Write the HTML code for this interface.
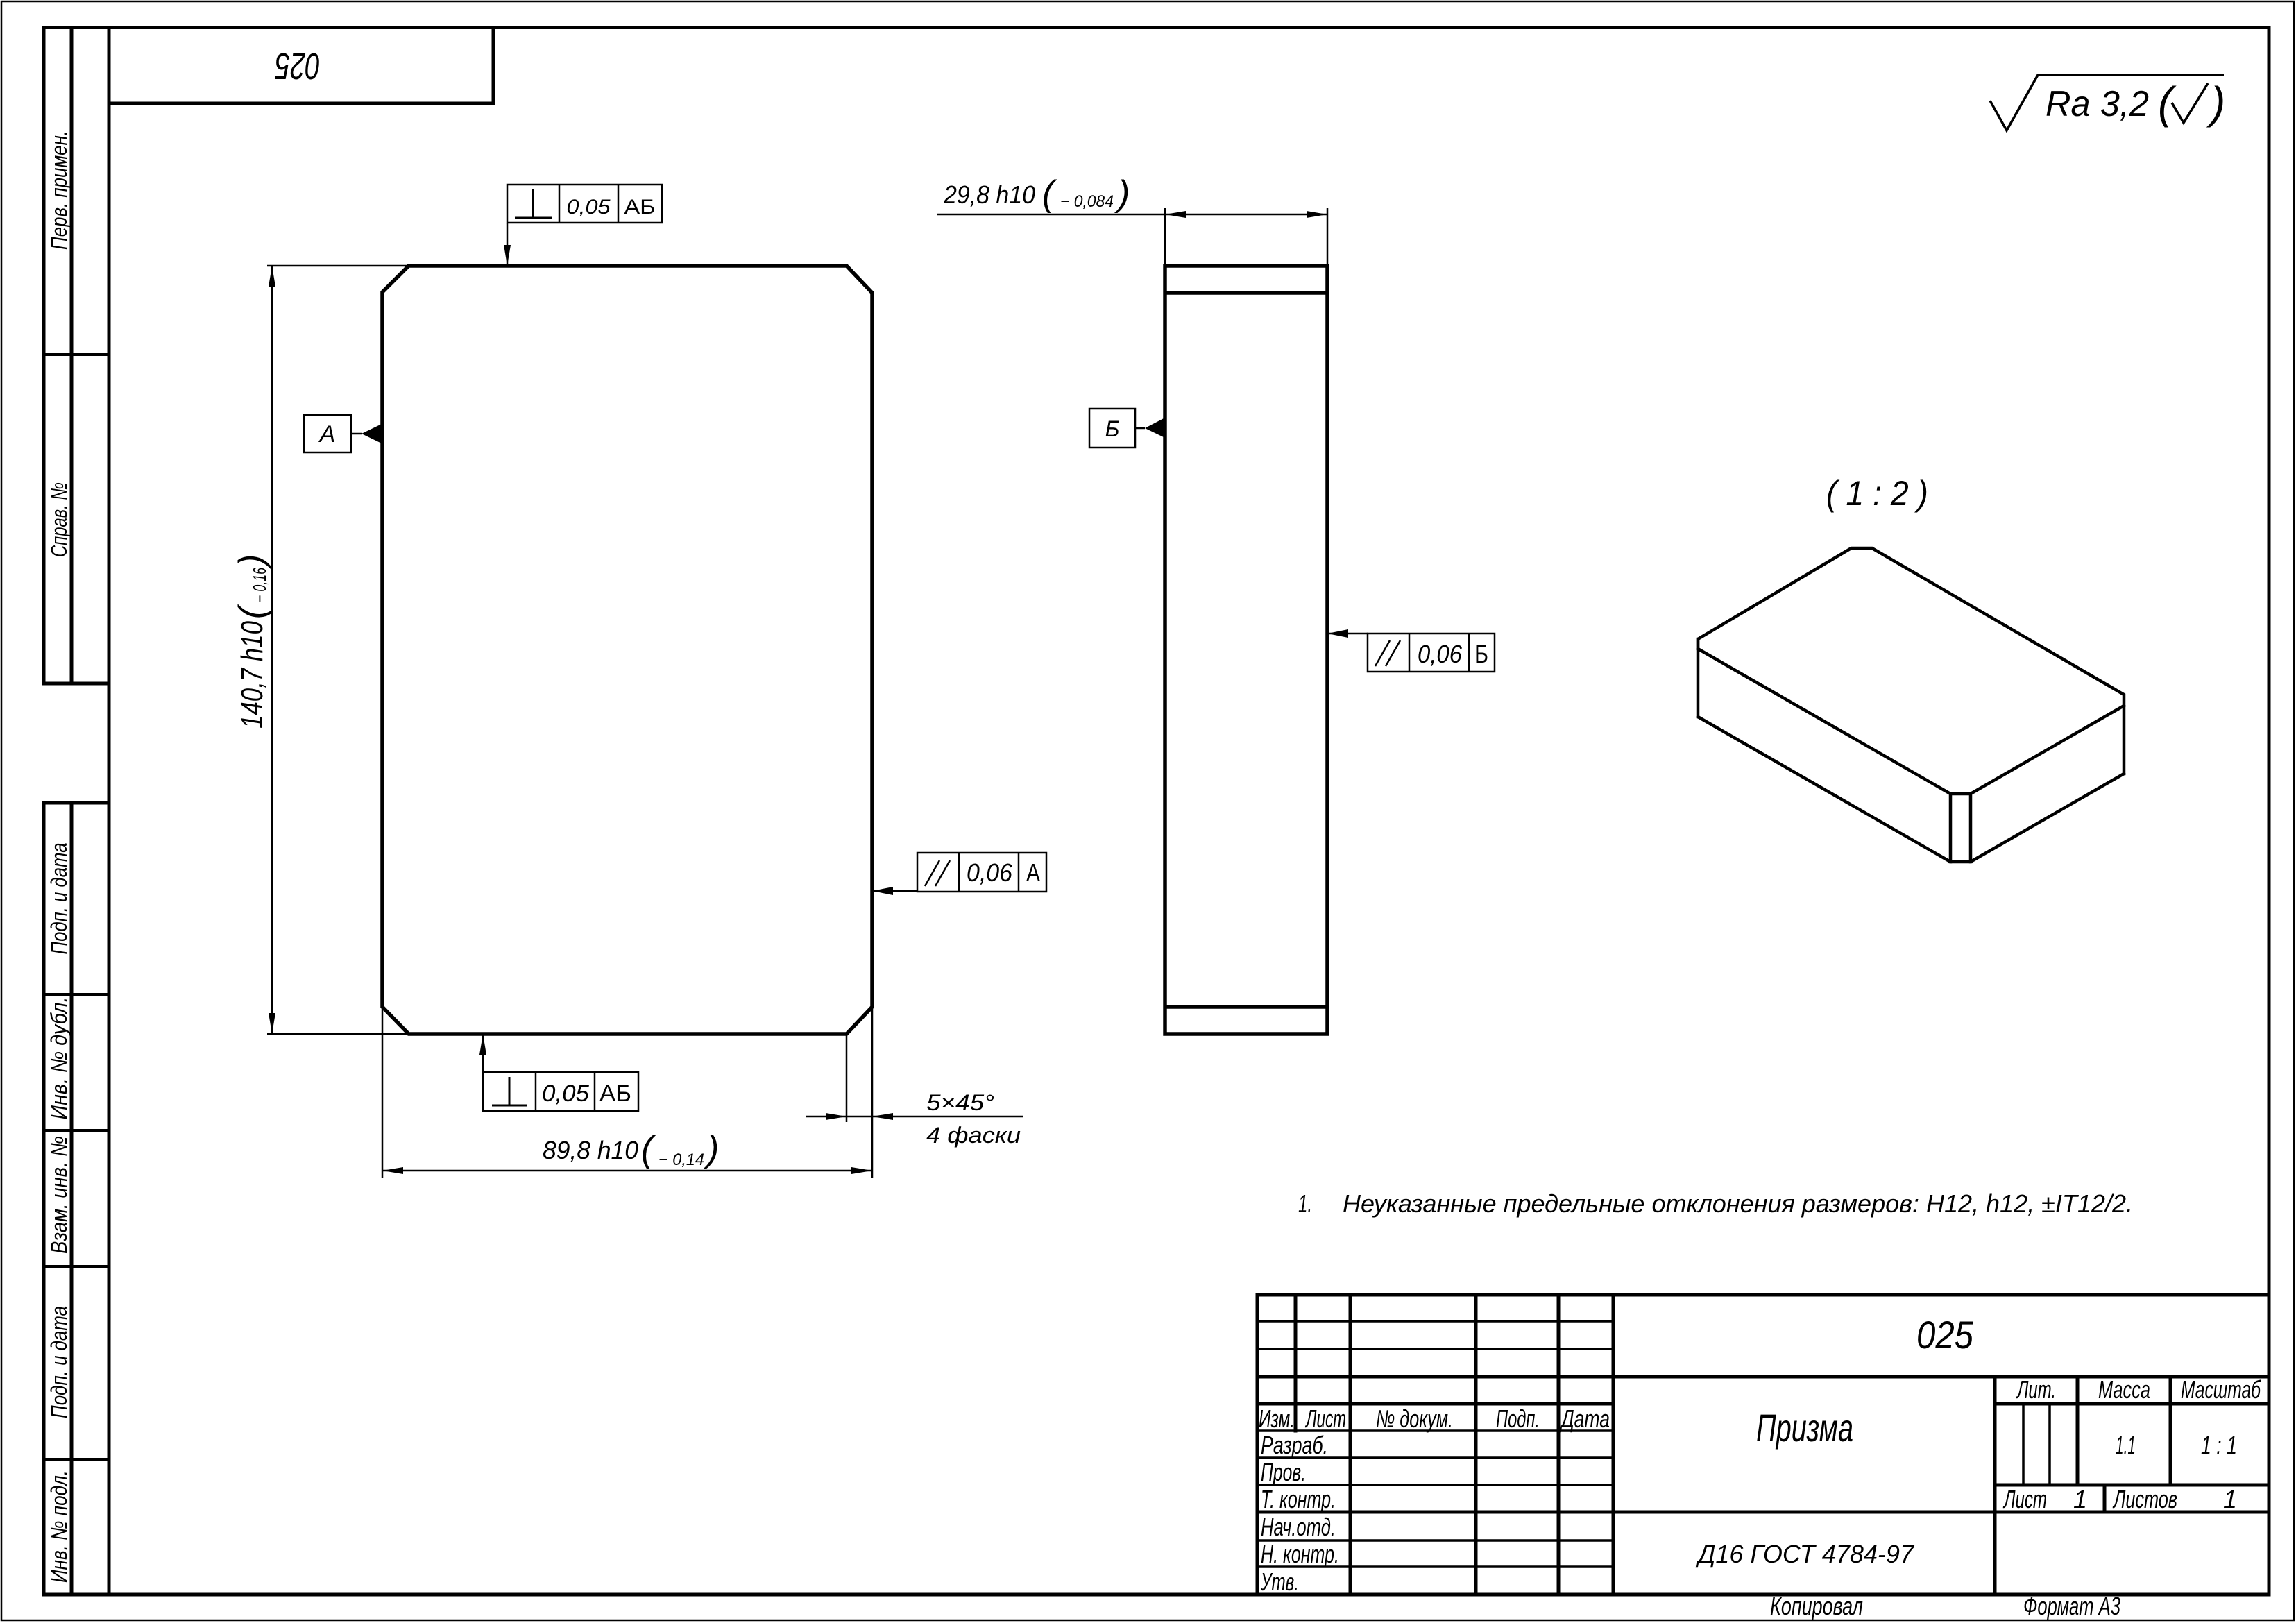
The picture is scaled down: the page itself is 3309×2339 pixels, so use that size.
<!DOCTYPE html>
<html><head><meta charset="utf-8"><style>
html,body{margin:0;padding:0;background:#fff;}
svg{display:block;}
text{font-family:"Liberation Sans","DejaVu Sans",sans-serif;font-style:italic;fill:#000;stroke:none;}
.up{font-style:normal;}
</style></head><body>
<svg xmlns="http://www.w3.org/2000/svg" width="3309" height="2339" viewBox="0 0 3309 2339">
<rect x="0" y="0" width="3309" height="2339" fill="#fff"/>
<!-- outer thin border -->
<rect x="2" y="2" width="3304" height="2333" fill="none" stroke="#000" stroke-width="2.5"/>

<g stroke="#000" fill="none" stroke-width="5" stroke-linecap="square">
  <!-- main frame -->
  <line x1="63" y1="39.5" x2="3270" y2="39.5"/>
  <line x1="157" y1="39.5" x2="157" y2="2298"/>
  <line x1="3270" y1="39.5" x2="3270" y2="2298"/>
  <line x1="63" y1="2298" x2="3270" y2="2298"/>
  <!-- left strip upper -->
  <line x1="63" y1="39.5" x2="63" y2="985"/>
  <line x1="103" y1="39.5" x2="103" y2="985"/>
  <line x1="63" y1="985" x2="157" y2="985"/>
  <!-- left strip lower -->
  <line x1="63" y1="1157" x2="63" y2="2298"/>
  <line x1="103" y1="1157" x2="103" y2="2298"/>
  <line x1="63" y1="1157" x2="157" y2="1157"/>
  <!-- stamp box -->
  <line x1="711" y1="39.5" x2="711" y2="149"/>
  <line x1="157" y1="149" x2="711" y2="149"/>
</g>
<g stroke="#000" stroke-width="4">
  <line x1="63" y1="511" x2="157" y2="511"/>
  <line x1="63" y1="1433" x2="157" y2="1433"/>
  <line x1="63" y1="1629" x2="157" y2="1629"/>
  <line x1="63" y1="1825" x2="157" y2="1825"/>
  <line x1="63" y1="2103" x2="157" y2="2103"/>
</g>

<!-- left strip texts -->
<g font-size="32">
  <text transform="translate(96,274) rotate(-90)" text-anchor="middle" textLength="172" lengthAdjust="spacingAndGlyphs">Перв. примен.</text>
  <text transform="translate(96,749) rotate(-90)" text-anchor="middle" textLength="108" lengthAdjust="spacingAndGlyphs">Справ. №</text>
  <text transform="translate(96,1295) rotate(-90)" text-anchor="middle" textLength="161" lengthAdjust="spacingAndGlyphs">Подп. и дата</text>
  <text transform="translate(96,1525) rotate(-90)" text-anchor="middle" textLength="177" lengthAdjust="spacingAndGlyphs">Инв. № дубл.</text>
  <text transform="translate(96,1722) rotate(-90)" text-anchor="middle" textLength="170" lengthAdjust="spacingAndGlyphs">Взам. инв. №</text>
  <text transform="translate(96,1963) rotate(-90)" text-anchor="middle" textLength="162" lengthAdjust="spacingAndGlyphs">Подп. и дата</text>
  <text transform="translate(96,2200) rotate(-90)" text-anchor="middle" textLength="162" lengthAdjust="spacingAndGlyphs">Инв. № подл.</text>
</g>
<!-- stamp upside-down -->
<text transform="rotate(180 429 96)" x="429" y="115" font-size="54" text-anchor="middle" textLength="65" lengthAdjust="spacingAndGlyphs">025</text>

<!-- Ra symbol -->
<polyline points="2868,145 2892,188 2937,108 3205,108" fill="none" stroke="#000" stroke-width="3.5"/>
<text x="2948" y="167" font-size="52" textLength="149" lengthAdjust="spacingAndGlyphs">Ra 3,2</text>
<text x="3110" y="170" font-size="64">(</text>
<polyline points="3130,148 3147,177 3182,120" fill="none" stroke="#000" stroke-width="3.5"/>
<text x="3186" y="170" font-size="64">)</text>

<!-- FRONT VIEW -->
<polygon points="589,383 1220,383 1257,422 1257,1451 1220,1490 589,1490 551,1451 551,421" fill="none" stroke="#000" stroke-width="5.5" stroke-linejoin="miter"/>

<g stroke="#000" stroke-width="2.5" fill="none">
  <!-- vertical dim -->
  <line x1="385" y1="383" x2="589" y2="383"/>
  <line x1="385" y1="1490" x2="589" y2="1490"/>
  <line x1="392" y1="383" x2="392" y2="1490"/>
  <!-- 89,8 dim -->
  <line x1="551" y1="1451" x2="551" y2="1697"/>
  <line x1="1257" y1="1451" x2="1257" y2="1697"/>
  <line x1="551" y1="1687" x2="1257" y2="1687"/>
  <!-- chamfer dim -->
  <line x1="1220" y1="1490" x2="1220" y2="1617"/>
  <line x1="1162" y1="1609" x2="1475" y2="1609"/>
  <!-- side view dim -->
  <line x1="1679" y1="300" x2="1679" y2="383"/>
  <line x1="1913" y1="300" x2="1913" y2="383"/>
  <line x1="1351" y1="309" x2="1913" y2="309"/>
  <!-- leaders -->
  <line x1="731" y1="321" x2="731" y2="383"/>
  <line x1="696" y1="1490" x2="696" y2="1545"/>
  <line x1="1913" y1="913" x2="1971" y2="913"/>
  <line x1="1257" y1="1284" x2="1322" y2="1284"/>
  <line x1="506" y1="625" x2="521" y2="625"/>
  <line x1="1636" y1="617" x2="1650" y2="617"/>
  <!-- datum boxes -->
  <rect x="438" y="598" width="68" height="54"/>
  <rect x="1570" y="589" width="66" height="56"/>
  <!-- GD&T frames -->
  <rect x="731" y="266" width="223" height="55"/>
  <line x1="806" y1="266" x2="806" y2="321"/>
  <line x1="891" y1="266" x2="891" y2="321"/>
  <rect x="696" y="1545" width="224" height="56"/>
  <line x1="772" y1="1545" x2="772" y2="1601"/>
  <line x1="857" y1="1545" x2="857" y2="1601"/>
  <rect x="1971" y="913" width="183" height="55"/>
  <line x1="2031" y1="913" x2="2031" y2="968"/>
  <line x1="2117" y1="913" x2="2117" y2="968"/>
  <rect x="1322" y="1229" width="186" height="56"/>
  <line x1="1382" y1="1229" x2="1382" y2="1285"/>
  <line x1="1468" y1="1229" x2="1468" y2="1285"/>
  <!-- perpendicular symbols -->
  <line x1="742" y1="314" x2="795" y2="314" stroke-width="3"/>
  <line x1="768" y1="273" x2="768" y2="314" stroke-width="3"/>
  <line x1="709" y1="1593" x2="760" y2="1593" stroke-width="3"/>
  <line x1="734" y1="1552" x2="734" y2="1593" stroke-width="3"/>
  <!-- parallel symbols -->
  <line x1="1982" y1="960" x2="2003" y2="923"/>
  <line x1="1997" y1="960" x2="2018" y2="923"/>
  <line x1="1333" y1="1277" x2="1354" y2="1240"/>
  <line x1="1348" y1="1277" x2="1369" y2="1240"/>
</g>

<!-- arrowheads -->
<g fill="#000" stroke="none">
  <polygon points="392,383 387,413 397,413"/>
  <polygon points="392,1490 387,1460 397,1460"/>
  <polygon points="1679,309 1709,304 1709,314"/>
  <polygon points="1913,309 1883,304 1883,314"/>
  <polygon points="551,1687 581,1682 581,1692"/>
  <polygon points="1257,1687 1227,1682 1227,1692"/>
  <polygon points="1220,1609 1190,1604 1190,1614"/>
  <polygon points="1257,1609 1287,1604 1287,1614"/>
  <polygon points="731,383 726,353 736,353"/>
  <polygon points="696,1490 691,1520 701,1520"/>
  <polygon points="1913,913 1943,907 1943,919"/>
  <polygon points="1257,1284 1287,1278 1287,1290"/>
  <polygon points="550,611 550,639 521,625"/>
  <polygon points="1679,602 1679,631 1650,617"/>
</g>

<!-- GD&T / datum texts -->
<text x="848" y="308" font-size="30" text-anchor="middle" textLength="63" lengthAdjust="spacingAndGlyphs">0,05</text>
<text class="up" x="922" y="308" font-size="30" text-anchor="middle" textLength="45" lengthAdjust="spacingAndGlyphs">АБ</text>
<text x="815" y="1587" font-size="34" text-anchor="middle" textLength="68" lengthAdjust="spacingAndGlyphs">0,05</text>
<text class="up" x="887" y="1587" font-size="34" text-anchor="middle" textLength="46" lengthAdjust="spacingAndGlyphs">АБ</text>
<text x="2075" y="955" font-size="36" text-anchor="middle" textLength="64" lengthAdjust="spacingAndGlyphs">0,06</text>
<text class="up" x="2135" y="955" font-size="36" text-anchor="middle" textLength="20" lengthAdjust="spacingAndGlyphs">Б</text>
<text x="1426" y="1270" font-size="36" text-anchor="middle" textLength="66" lengthAdjust="spacingAndGlyphs">0,06</text>
<text class="up" x="1489" y="1270" font-size="36" text-anchor="middle" textLength="20" lengthAdjust="spacingAndGlyphs">А</text>
<text x="472" y="637" font-size="34" text-anchor="middle">А</text>
<text x="1603" y="629" font-size="32" text-anchor="middle">Б</text>

<!-- vertical dimension text -->
<g transform="translate(378,1050) rotate(-90)">
  <text x="0" y="0" font-size="44" textLength="155" lengthAdjust="spacingAndGlyphs">140,7 h10</text>
  <text x="158" y="2" font-size="52">(</text>
  <text x="182" y="5" font-size="26" textLength="50" lengthAdjust="spacingAndGlyphs">− 0,16</text>
  <text x="234" y="2" font-size="52">)</text>
</g>
<!-- top side dim text -->
<text x="1360" y="293" font-size="36" textLength="132" lengthAdjust="spacingAndGlyphs">29,8 h10</text>
<text x="1502" y="296" font-size="52">(</text>
<text x="1528" y="298" font-size="24" textLength="77" lengthAdjust="spacingAndGlyphs">− 0,084</text>
<text x="1611" y="296" font-size="52">)</text>
<!-- bottom dim text -->
<text x="782" y="1670" font-size="36" textLength="138" lengthAdjust="spacingAndGlyphs">89,8 h10</text>
<text x="924" y="1673" font-size="52">(</text>
<text x="949" y="1679" font-size="24" textLength="66" lengthAdjust="spacingAndGlyphs">− 0,14</text>
<text x="1019" y="1673" font-size="52">)</text>
<!-- chamfer text -->
<text x="1335" y="1600" font-size="32" textLength="98" lengthAdjust="spacingAndGlyphs">5×45°</text>
<text x="1335" y="1647" font-size="32" textLength="136" lengthAdjust="spacingAndGlyphs">4 фаски</text>

<!-- SIDE VIEW -->
<g stroke="#000" stroke-width="5.5" fill="none">
  <rect x="1679" y="383" width="234" height="1107"/>
  <line x1="1679" y1="422" x2="1913" y2="422"/>
  <line x1="1679" y1="1451" x2="1913" y2="1451"/>
</g>

<!-- ISOMETRIC -->
<text x="2632" y="728" font-size="50" textLength="147" lengthAdjust="spacingAndGlyphs">( 1 : 2 )</text>
<g stroke="#000" stroke-width="4.5" fill="none" stroke-linejoin="miter" stroke-linecap="square">
  <polyline points="2447,935 2447,921 2668,790 2698,790 3061,1001 3061,1115"/>
  <line x1="2447" y1="921" x2="2447" y2="1033"/>
  <polyline points="2447,935 2811,1144 2840,1144 3061,1017"/>
  <polyline points="2447,1033 2811,1242 2840,1242 3061,1115"/>
  <line x1="2811" y1="1144" x2="2811" y2="1242"/>
  <line x1="2840" y1="1144" x2="2840" y2="1242"/>
</g>

<!-- note -->
<text x="1871" y="1747" font-size="36" textLength="20" lengthAdjust="spacingAndGlyphs">1.</text>
<text x="1935" y="1747" font-size="36" textLength="1139" lengthAdjust="spacingAndGlyphs">Неуказанные предельные отклонения размеров: H12, h12, ±IT12/2.</text>

<!-- TITLE BLOCK -->
<g stroke="#000" stroke-width="5" fill="none" stroke-linecap="square">
  <line x1="1812" y1="1866" x2="3270" y2="1866"/>
  <line x1="1812" y1="1866" x2="1812" y2="2298"/>
  <line x1="1867" y1="1866" x2="1867" y2="2062"/>
  <line x1="1946" y1="1866" x2="1946" y2="2298"/>
  <line x1="2127" y1="1866" x2="2127" y2="2298"/>
  <line x1="2246" y1="1866" x2="2246" y2="2298"/>
  <line x1="2325" y1="1866" x2="2325" y2="2298"/>
  <line x1="1812" y1="1984" x2="3270" y2="1984"/>
  <line x1="1812" y1="2023" x2="2325" y2="2023"/>
  <line x1="1812" y1="2179" x2="3270" y2="2179"/>
  <line x1="2875" y1="1984" x2="2875" y2="2298"/>
  <line x1="2875" y1="2023" x2="3270" y2="2023"/>
  <line x1="2994" y1="1984" x2="2994" y2="2140"/>
  <line x1="3128" y1="1984" x2="3128" y2="2140"/>
  <line x1="2875" y1="2140" x2="3270" y2="2140"/>
  <line x1="3033" y1="2140" x2="3033" y2="2179"/>
</g>
<g stroke="#000" stroke-width="3.5" fill="none">
  <line x1="1812" y1="1904" x2="2325" y2="1904"/>
  <line x1="1812" y1="1944" x2="2325" y2="1944"/>
  <line x1="1812" y1="2062" x2="2325" y2="2062"/>
  <line x1="1812" y1="2101" x2="2325" y2="2101"/>
  <line x1="1812" y1="2140" x2="2325" y2="2140"/>
  <line x1="1812" y1="2220" x2="2325" y2="2220"/>
  <line x1="1812" y1="2258" x2="2325" y2="2258"/>
  <line x1="2916" y1="2023" x2="2916" y2="2140"/>
  <line x1="2954" y1="2023" x2="2954" y2="2140"/>
</g>

<g font-size="36">
  <text x="1814" y="2057" textLength="52" lengthAdjust="spacingAndGlyphs">Изм.</text>
  <text x="1882" y="2057" textLength="58" lengthAdjust="spacingAndGlyphs">Лист</text>
  <text x="1983" y="2057" textLength="111" lengthAdjust="spacingAndGlyphs">№ докум.</text>
  <text x="2156" y="2057" textLength="63" lengthAdjust="spacingAndGlyphs">Подп.</text>
  <text x="2250" y="2057" textLength="70" lengthAdjust="spacingAndGlyphs">Дата</text>
  <text x="1817" y="2095" textLength="97" lengthAdjust="spacingAndGlyphs">Разраб.</text>
  <text x="1817" y="2134" textLength="65" lengthAdjust="spacingAndGlyphs">Пров.</text>
  <text x="1817" y="2173" textLength="108" lengthAdjust="spacingAndGlyphs">Т. контр.</text>
  <text x="1817" y="2213" textLength="108" lengthAdjust="spacingAndGlyphs">Нач.отд.</text>
  <text x="1817" y="2252" textLength="113" lengthAdjust="spacingAndGlyphs">Н. контр.</text>
  <text x="1817" y="2292" textLength="55" lengthAdjust="spacingAndGlyphs">Утв.</text>
  <text x="2907" y="2015" textLength="56" lengthAdjust="spacingAndGlyphs">Лит.</text>
  <text x="3024" y="2015" textLength="75" lengthAdjust="spacingAndGlyphs">Масса</text>
  <text x="3143" y="2015" textLength="115" lengthAdjust="spacingAndGlyphs">Масштаб</text>
  <text x="3049" y="2095" textLength="29" lengthAdjust="spacingAndGlyphs">1.1</text>
  <text x="3172" y="2095" textLength="52" lengthAdjust="spacingAndGlyphs">1 : 1</text>
  <text x="2888" y="2173" textLength="62" lengthAdjust="spacingAndGlyphs">Лист</text>
  <text x="2988" y="2173">1</text>
  <text x="3046" y="2173" textLength="92" lengthAdjust="spacingAndGlyphs">Листов</text>
  <text x="3204" y="2173">1</text>
  <text x="2447" y="2252" textLength="311" lengthAdjust="spacingAndGlyphs">Д16 ГОСТ 4784-97</text>
  <text x="2551" y="2327" textLength="134" lengthAdjust="spacingAndGlyphs">Копировал</text>
  <text x="2916" y="2327" textLength="140" lengthAdjust="spacingAndGlyphs">Формат А3</text>
</g>
<text x="2762" y="1943" font-size="56" textLength="82" lengthAdjust="spacingAndGlyphs">025</text>
<text x="2531" y="2077" font-size="56" textLength="140" lengthAdjust="spacingAndGlyphs">Призма</text>
</svg>
</body></html>
